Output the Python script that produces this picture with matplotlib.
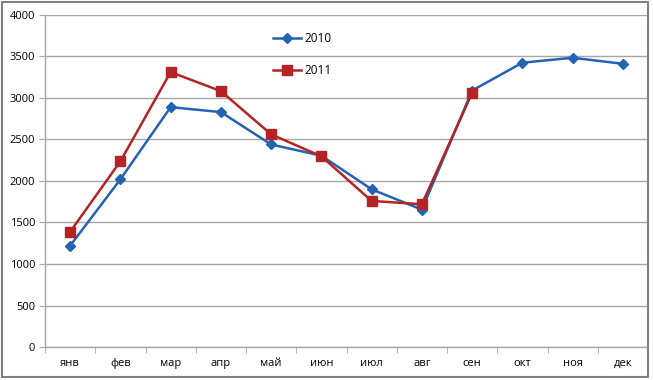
import matplotlib.pyplot as plt
import numpy as np
from matplotlib.patches import Rectangle

plt.rcParams['font.family'] = ['Open Sans', 'DejaVu Sans']

# Monthly values
months = ['янв', 'фев', 'мар', 'апр', 'май', 'июн',
          'июл', 'авг', 'сен', 'окт', 'ноя', 'дек']
values_2010 = [1220, 2020, 2890, 2830, 2440, 2305, 1900, 1655, 3090, 3425, 3485, 3412]
values_2011 = [1388, 2237, 3312, 3083, 2562, 2297, 1760, 1720, 3062]
y_ticks = [0, 500, 1000, 1500, 2000, 2500, 3000, 3500, 4000]

blue = '#2463B2'
red = '#B42426'
grid_col = '#A6A6A6'

fig = plt.figure(figsize=(6.53, 3.80), dpi=100)
W, H = 653, 380
ax = fig.add_axes([45 / W, 1 - 347 / H, 603 / W, 332 / H])

x10 = np.arange(len(values_2010))
x11 = np.arange(len(values_2011))
ax.plot(x10, values_2010, color=blue, lw=1.8, marker='D', ms=5,
        markeredgecolor=blue, label='2010', zorder=3)
ax.plot(x11, values_2011, color=red, lw=1.8, marker='s', ms=7,
        markeredgecolor=red, label='2011', zorder=4)

ax.set_xlim(-0.5, len(months) - 0.5)
ax.set_ylim(0, 4000)
ax.set_yticks(y_ticks)
ax.set_yticklabels([str(v) for v in y_ticks], fontsize=8)
ax.set_xticks(np.arange(len(months)))
ax.set_xticklabels(months, fontsize=8)
ax.tick_params(axis='x', length=0, pad=8)
ax.set_xticks(np.arange(-0.5, len(months)), minor=True)
ax.tick_params(axis='x', which='minor', length=4, color=grid_col, direction='out')
ax.tick_params(axis='y', length=4, color=grid_col, pad=3)

ax.grid(axis='y', color=grid_col, lw=1)
ax.set_axisbelow(True)
for side in ['top', 'right']:
    ax.spines[side].set_visible(False)
for side in ['left', 'bottom']:
    ax.spines[side].set_color(grid_col)
    ax.spines[side].set_linewidth(1)

leg = ax.legend(loc='upper left', bbox_to_anchor=((273 - 45) / 603, (347 - 32) / 332),
                frameon=False, fontsize=8.5, handlelength=2.4, handletextpad=0.3,
                labelspacing=1.65, borderaxespad=0, borderpad=0)

# outer chart border
fig.patches.append(Rectangle((2 / W, 1 - 377 / H), 646 / W, 375 / H,
                             transform=fig.transFigure, fill=False,
                             edgecolor='#7F7F7F', lw=1.5))

plt.savefig('out.png', dpi=100)
